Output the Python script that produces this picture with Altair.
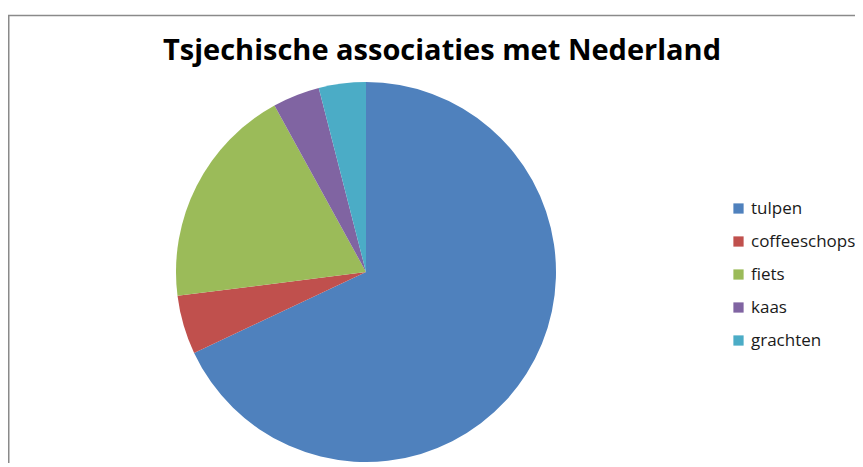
import altair as alt
import pandas as pd

title_text = "Tsjechische associaties met Nederland"
categories = ["tulpen", "coffeeschops", "fiets", "kaas", "grachten"]
values = [68, 5, 19, 4, 4]
colors = ["#4F81BD", "#C0504D", "#9BBB59", "#8064A2", "#4BACC6"]

df = pd.DataFrame({
    "categorie": categories,
    "waarde": values,
    "volgorde": list(range(len(categories))),
})

W, H = 847, 455
FONT = "Open Sans"

pie = alt.Chart(df).mark_arc(radius=190).encode(
    theta=alt.Theta("waarde:Q", stack=True),
    color=alt.Color(
        "categorie:N",
        scale=alt.Scale(domain=categories, range=colors),
        legend=alt.Legend(
            title=None,
            orient="none",
            legendX=722,
            legendY=192,
            symbolType="square",
            symbolSize=105,
            symbolStrokeWidth=0,
            labelFont=FONT,
            labelFontSize=17,
            labelColor="#1a1a1a",
            labelOffset=4,
            rowPadding=15,
        ),
    ),
    order=alt.Order("volgorde:Q"),
    x=alt.value(358),
    y=alt.value(264),
)

title = alt.Chart(pd.DataFrame({"t": [title_text]})).mark_text(
    font=FONT, fontSize=29, fontWeight="bold", align="center", baseline="alphabetic", color="#000000"
).encode(text="t:N", x=alt.value(434), y=alt.value(52))

one = pd.DataFrame({"a": [0]})
top_line = alt.Chart(one).mark_rule(color="#8a8a8a", strokeWidth=1.5).encode(
    x=alt.value(0), x2=alt.value(W), y=alt.value(7.5)
)
left_line = alt.Chart(one).mark_rule(color="#8a8a8a", strokeWidth=1.5).encode(
    x=alt.value(0.75), y=alt.value(7.5), y2=alt.value(H)
)

chart = alt.layer(top_line, left_line, pie, title).properties(
    width=W, height=H, autosize=alt.AutoSizeParams(type="none"), padding=0
).configure_view(stroke=None)

chart.save("out.html", embed_options={"renderer": "svg", "actions": False})
